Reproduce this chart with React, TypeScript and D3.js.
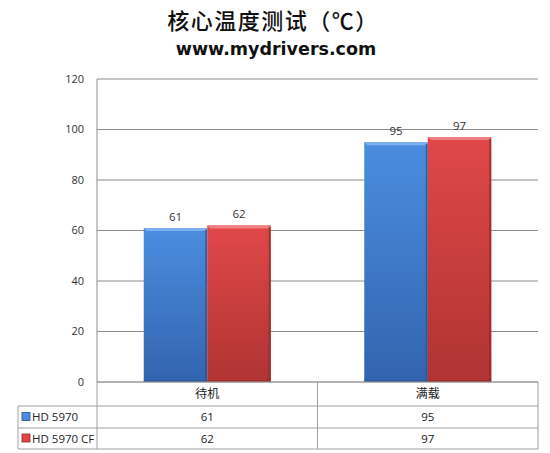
import * as d3 from "d3";

const width = 550;
const height = 453;
const margin = { top: 79, right: 12, bottom: 71, left: 97 };

const categories = ["待机", "满载"];
const seriesNames = ["HD 5970", "HD 5970 CF"];
const hd5970 = [61, 95];
const hd5970cf = [62, 97];
const yTicks = [0, 20, 40, 60, 80, 100, 120];

const seriesValues = [hd5970, hd5970cf];
const palette = [
  { top: "#4b8de0", bottom: "#3364ae", light: "#7fb0ef", dark: "#26508f" },
  { top: "#e04848", bottom: "#b03333", light: "#ef8080", dark: "#8c2626" },
];

const cjk = "'Noto Sans CJK SC', sans-serif";
const latin = "'Open Sans', 'Noto Sans', sans-serif";

export default function App() {
  const plotBottom = height - margin.bottom;

  const x = d3
    .scaleBand<string>()
    .domain(categories)
    .range([margin.left, width - margin.right]);

  // 兩個系列在每個分類中的位置
  const xs = d3
    .scaleBand<string>()
    .domain(seriesNames)
    .range([0, x.bandwidth()])
    .paddingOuter(0.736);

  const y = d3.scaleLinear().domain([0, 120]).range([plotBottom, margin.top]);

  const tableLeft = 18;
  const tableRight = width - margin.right;
  const rowsY = [plotBottom, plotBottom + 24, plotBottom + 46, plotBottom + 67];

  return (
    <svg
      width={width}
      height={height}
      style={{ position: "absolute", left: 0, top: 0, background: "#fff" }}
    >
      <defs>
        {palette.map((p, i) => (
          <linearGradient key={i} id={`g${i}`} x1="0" y1="0" x2="0" y2="1">
            <stop offset="0" stopColor={p.top} />
            <stop offset="1" stopColor={p.bottom} />
          </linearGradient>
        ))}
      </defs>

      <text
        x={273}
        y={29}
        textAnchor="middle"
        fontFamily={cjk}
        fontSize={22}
        fontWeight={500}
        letterSpacing={1.5}
        fill="#111"
      >
        核心温度测试（℃）
      </text>
      <text
        x={276}
        y={55}
        textAnchor="middle"
        fontFamily="'DejaVu Sans', sans-serif"
        fontWeight="bold"
        fontSize={17.5}
        fill="#111"
      >
        www.mydrivers.com
      </text>

      {/* 格線與 y 軸刻度 */}
      {yTicks.map((t) => (
        <g key={t}>
          <line
            x1={margin.left}
            x2={width - margin.right}
            y1={y(t)}
            y2={y(t)}
            stroke="#8c8c8c"
            strokeWidth={1}
          />
          <text
            x={84}
            y={y(t)}
            dy="0.35em"
            textAnchor="end"
            fontFamily={latin}
            fontSize={11}
            fill="#333"
          >
            {t}
          </text>
        </g>
      ))}
      <line
        x1={margin.left}
        x2={margin.left}
        y1={margin.top}
        y2={plotBottom}
        stroke="#8c8c8c"
      />

      {/* 長條 */}
      {categories.map((c, ci) =>
        seriesNames.map((s, si) => {
          const v = seriesValues[si][ci];
          const bx = (x(c) ?? 0) + (xs(s) ?? 0);
          const bw = xs.bandwidth();
          const by = y(v);
          const bh = plotBottom - by;
          const p = palette[si];
          return (
            <g key={c + s}>
              <rect x={bx} y={by} width={bw} height={bh} fill={`url(#g${si})`} />
              <polygon
                points={`${bx},${by} ${bx + bw},${by} ${bx + bw - 3},${by + 3} ${bx + 3},${by + 3}`}
                fill={p.light}
              />
              <rect x={bx + bw - 2} y={by + 2} width={2} height={bh - 2} fill={p.dark} opacity={0.7} />
              <rect x={bx} y={plotBottom - 2} width={bw} height={2} fill={p.dark} opacity={0.6} />
              <text
                x={bx + bw / 2}
                y={by - 7}
                textAnchor="middle"
                fontFamily={latin}
                fontSize={11.5}
                fill="#333"
              >
                {v}
              </text>
            </g>
          );
        }),
      )}

      {/* 資料表 */}
      <g stroke="#a0a0a0" strokeWidth={1} fill="none">
        <line x1={margin.left} x2={tableRight} y1={rowsY[0]} y2={rowsY[0]} />
        {rowsY.slice(1).map((ry, i) => (
          <line key={i} x1={tableLeft} x2={tableRight} y1={ry} y2={ry} />
        ))}
        <line x1={tableLeft} x2={tableLeft} y1={rowsY[1]} y2={rowsY[3]} />
        <line x1={margin.left} x2={margin.left} y1={rowsY[0]} y2={rowsY[3]} />
        {categories.map((c) => (
          <line
            key={c}
            x1={(x(c) ?? 0) + x.bandwidth()}
            x2={(x(c) ?? 0) + x.bandwidth()}
            y1={rowsY[0]}
            y2={rowsY[3]}
          />
        ))}
      </g>

      {categories.map((c) => (
        <text
          key={c}
          x={(x(c) ?? 0) + x.bandwidth() / 2}
          y={(rowsY[0] + rowsY[1]) / 2}
          dy="0.36em"
          textAnchor="middle"
          fontFamily={cjk}
          fontSize={12}
          fill="#222"
        >
          {c}
        </text>
      ))}

      {seriesNames.map((s, si) => {
        const cy = (rowsY[si + 1] + rowsY[si + 2]) / 2;
        const p = palette[si];
        return (
          <g key={s}>
            <rect x={22} y={cy - 4.5} width={8} height={8} fill={p.top} stroke={p.dark} strokeWidth={0.8} />
            <text
              x={32}
              y={cy}
              dy="0.35em"
              fontFamily={latin}
              fontSize={11.5}
              fill="#222"
            >
              {s}
            </text>
            {categories.map((c, ci) => (
              <text
                key={c}
                x={(x(c) ?? 0) + x.bandwidth() / 2}
                y={cy}
                dy="0.35em"
                textAnchor="middle"
                fontFamily={latin}
                fontSize={11.5}
                fill="#222"
              >
                {seriesValues[si][ci]}
              </text>
            ))}
          </g>
        );
      })}
    </svg>
  );
}
